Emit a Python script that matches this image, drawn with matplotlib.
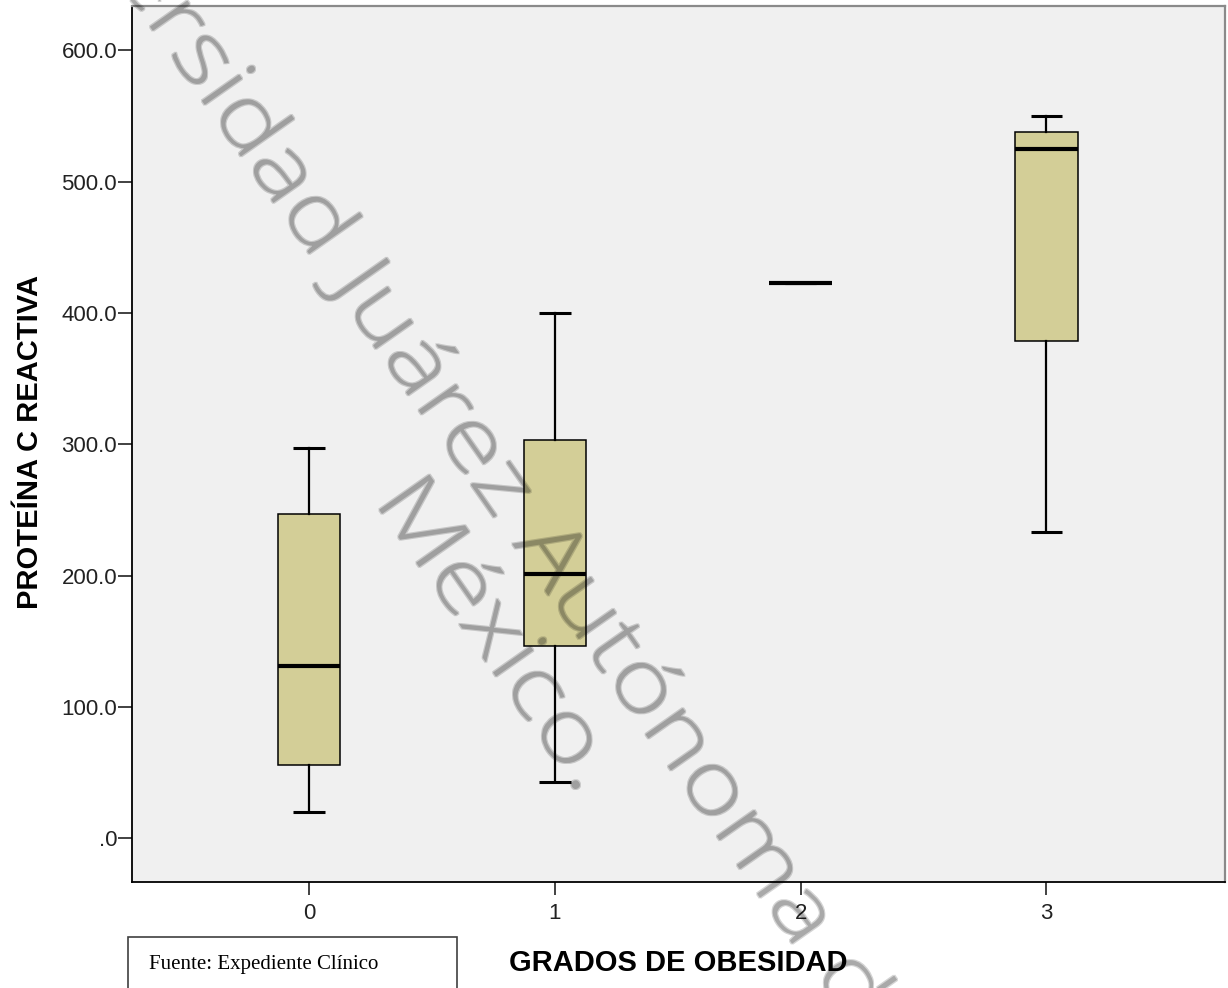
import numpy as np
import matplotlib
matplotlib.use("Agg")
import matplotlib.pyplot as plt
import matplotlib.transforms as mtransforms
from matplotlib.patches import Rectangle, PathPatch
from matplotlib.textpath import TextPath
from matplotlib.font_manager import FontProperties
from matplotlib.ticker import FuncFormatter

# Valores (diagrama de caja por grado de obesidad)
grados = [0, 1, 2, 3]
bigote_inf = [20.3, 42.6, 423.1, 233.0]
q1 = [55.8, 146.7, 423.1, 378.7]
mediana = [131.4, 201.2, 423.1, 524.9]
q3 = [246.9, 303.3, 423.1, 537.6]
bigote_sup = [297.0, 399.7, 423.1, 550.0]
yticks = [0, 100, 200, 300, 400, 500, 600]

plt.rcParams['font.family'] = ['Liberation Sans', 'DejaVu Sans']

W, H = 1228, 988
fig = plt.figure(figsize=(W/100, H/100), dpi=100)
ax = fig.add_axes([132.3/W, 1-881.7/H, (1225-132.3)/W, (881.7-6)/H])
ax.set_facecolor('#f0f0f0')

stats = []
for i in range(len(grados)):
    stats.append(dict(whislo=bigote_inf[i], q1=q1[i], med=mediana[i],
                      q3=q3[i], whishi=bigote_sup[i], fliers=[]))

ax.bxp(stats, positions=grados, widths=0.254, capwidths=0.129,
       patch_artist=True, showfliers=False,
       boxprops=dict(facecolor='#d3ce97', edgecolor='black', linewidth=1.1),
       medianprops=dict(color='black', linewidth=3, solid_capstyle='butt'),
       whiskerprops=dict(color='black', linewidth=1.6),
       capprops=dict(color='black', linewidth=2.2, solid_capstyle='butt'))

ax.set_xlim(-0.720, 3.727)
ax.set_ylim(-33.0, 633.7)
ax.set_xticks(grados)
ax.set_xticklabels([str(g) for g in grados])
ax.set_yticks(yticks)
ax.yaxis.set_major_formatter(FuncFormatter(lambda v, p: '.0' if v == 0 else '%.1f' % v))

for s in ['left', 'bottom']:
    ax.spines[s].set_color('black')
    ax.spines[s].set_linewidth(1.3)
for s in ['top', 'right']:
    ax.spines[s].set_color('#8a8a8a')
    ax.spines[s].set_linewidth(1.6)

ax.tick_params(axis='y', length=10, width=1.3, pad=1, labelsize=16,
               color='#333333', labelcolor='#222222')
ax.tick_params(axis='x', length=9.5, width=1.3, pad=5.5, labelsize=16,
               color='#333333', labelcolor='#222222')

ax.set_ylabel('PROTEÍNA C REACTIVA', fontsize=21, fontweight='bold', va='center')
ax.yaxis.set_label_coords((30-132.3)/1092.7, 0.502)
ax.set_xlabel('GRADOS DE OBESIDAD', fontsize=21, fontweight='bold', va='center')
ax.xaxis.set_label_coords(0.5, -(963-881.7)/875.7)

# cuadro de la fuente
rect = Rectangle((128/W, -0.05), 329/W, 0.05 + 1 - 937/H, transform=fig.transFigure,
                 facecolor='white', edgecolor='#404040', linewidth=1.2)
fig.patches.append(rect)
fig.text(149/W, 1-969/H, 'Fuente: Expediente Clínico', family='Liberation Serif',
         fontsize=15, ha='left', va='baseline', color='black')

# marca de agua: letra delgada y ancha, girada
fp = FontProperties(family=['Open Sans', 'DejaVu Sans'], weight='light')
tam = 86        # alto de la letra en pixeles
estira = 1.23   # ensanchado horizontal


def engrosar(img, dpi):
    # engrosa un poco el trazo y aplica la transparencia
    a = np.pad(img[:, :, 3], 2)
    b = a.copy()
    b[1:, :] = np.maximum(b[1:, :], a[:-1, :])
    b[:-1, :] = np.maximum(b[:-1, :], a[1:, :])
    c = b.copy()
    c[:, 1:] = np.maximum(c[:, 1:], b[:, :-1])
    c[:, :-1] = np.maximum(c[:, :-1], b[:, 1:])
    out = np.zeros(a.shape + (4,))
    out[:, :, 3] = 0.5 * (a + c) * 0.34
    return out, -2, -2


def marca(texto, x, y, antes=''):
    # x, y: inicio de la linea base (pixeles desde arriba a la izquierda)
    camino = TextPath((0, 0), antes + texto, size=tam, prop=fp)
    dx = 0
    if antes:
        dx = TextPath((0, 0), antes, size=tam, prop=fp).get_extents().x1
    tr = (mtransforms.Affine2D().translate(-dx, 0).scale(estira, 1)
          .rotate_deg(-55).translate(x, H - y).scale(1/100.) + fig.dpi_scale_trans)
    p = PathPatch(camino, transform=tr, facecolor='black', edgecolor='none', zorder=20)
    p.set_agg_filter(engrosar)
    fig.patches.append(p)


marca('sidad Juárez Autónoma de Tabasco.', 167, 51, antes='Univer')
marca('México.', 373, 501)

fig.savefig('out.png', dpi=100)
